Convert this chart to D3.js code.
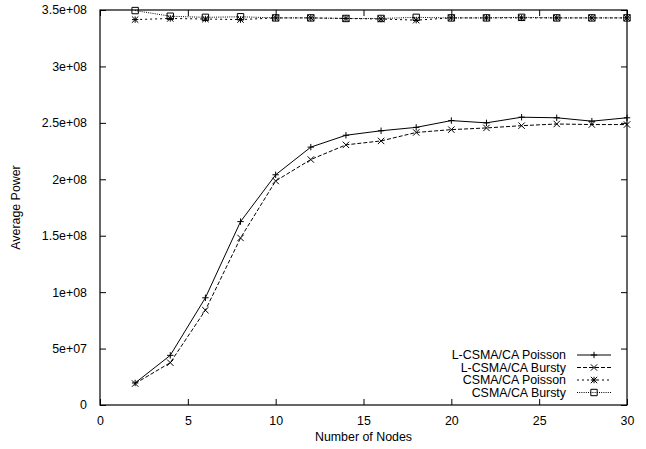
<!DOCTYPE html>
<html>
<head>
<meta charset="utf-8">
<script src="https://cdn.jsdelivr.net/npm/d3@7"></script>
<style>
  html, body { margin: 0; padding: 0; background: #fff; }
  svg { display: block; }
  text { font-family: "Liberation Sans", Arial, Helvetica, sans-serif; font-size: 12.4px; fill: #000; }
</style>
</head>
<body>
<svg id="chart" width="646" height="449"></svg>
<script>
const nodes = [2, 4, 6, 8, 10, 12, 14, 16, 18, 20, 22, 24, 26, 28, 30];
const lPoisson = [1.95e7, 4.4e7, 9.5e7, 1.625e8, 2.04e8, 2.285e8, 2.39e8, 2.43e8, 2.46e8, 2.52e8, 2.5e8, 2.55e8, 2.545e8, 2.515e8, 2.545e8];
const lBursty  = [1.9e7, 3.75e7, 8.4e7, 1.48e8, 1.985e8, 2.175e8, 2.305e8, 2.34e8, 2.415e8, 2.44e8, 2.455e8, 2.475e8, 2.49e8, 2.485e8, 2.485e8];
const cPoisson = [3.415e8, 3.425e8, 3.42e8, 3.415e8, 3.43e8, 3.43e8, 3.425e8, 3.42e8, 3.41e8, 3.43e8, 3.43e8, 3.43e8, 3.43e8, 3.43e8, 3.43e8];
const cBursty  = [3.495e8, 3.445e8, 3.435e8, 3.44e8, 3.43e8, 3.43e8, 3.425e8, 3.425e8, 3.435e8, 3.43e8, 3.43e8, 3.435e8, 3.43e8, 3.43e8, 3.43e8];
const seriesNames = ["L-CSMA/CA Poisson", "L-CSMA/CA Bursty", "CSMA/CA Poisson", "CSMA/CA Bursty"];
const xTicks = [0, 5, 10, 15, 20, 25, 30];
const yTicks = [0, 5e7, 1e8, 1.5e8, 2e8, 2.5e8, 3e8, 3.5e8];
const yTickLabels = ["0", "5e+07", "1e+08", "1.5e+08", "2e+08", "2.5e+08", "3e+08", "3.5e+08"];
const xTitle = "Number of Nodes";
const yTitle = "Average Power";

const series = [
  { name: seriesNames[0], values: lPoisson, dash: null, marker: "plus" },
  { name: seriesNames[1], values: lBursty, dash: "4,2", marker: "cross" },
  { name: seriesNames[2], values: cPoisson, dash: "2,3", marker: "star" },
  { name: seriesNames[3], values: cBursty, dash: "1,1.2", marker: "square" }
];

const svg = d3.select("#chart");
const L = 100, R = 627, T = 10, B = 405;
const x = d3.scaleLinear().domain([0, 30]).range([L, R]);
const y = d3.scaleLinear().domain([0, 3.5e8]).range([B, T]);

svg.append("rect").attr("x", L).attr("y", T).attr("width", R - L).attr("height", B - T)
  .attr("fill", "none").attr("stroke", "#000").attr("stroke-width", 1.2);

const tk = 6;
svg.append("g").attr("transform", `translate(0,${B})`)
  .call(d3.axisBottom(x).tickValues(xTicks).tickSize(-tk).tickPadding(tk + 5).tickFormat(d3.format("d")));
svg.append("g").attr("transform", `translate(0,${T})`)
  .call(d3.axisTop(x).tickValues(xTicks).tickSize(-tk).tickFormat(""));
svg.append("g").attr("transform", `translate(${L},0)`)
  .call(d3.axisLeft(y).tickValues(yTicks).tickSize(-tk).tickPadding(tk + 7).tickFormat((d, i) => yTickLabels[i]));
svg.append("g").attr("transform", `translate(${R},0)`)
  .call(d3.axisRight(y).tickValues(yTicks).tickSize(-tk).tickFormat(""));
svg.selectAll(".domain").remove();
svg.selectAll(".tick line").attr("stroke", "#000");
svg.selectAll(".tick text").attr("font-size", 12.4).attr("font-family", "Liberation Sans, Arial, sans-serif");

svg.append("text").attr("x", (L + R) / 2).attr("y", 441).attr("text-anchor", "middle").text(xTitle);
svg.append("text").attr("transform", `translate(20,${(T + B) / 2}) rotate(-90)`).attr("text-anchor", "middle").text(yTitle);

function drawMarker(g, type, cx, cy) {
  const s = 3.2;
  const p = g.append("path").attr("fill", "none").attr("stroke", "#000").attr("stroke-width", 1);
  let d = "";
  if (type === "plus" || type === "star") d += `M${cx - s},${cy}H${cx + s}M${cx},${cy - s}V${cy + s}`;
  if (type === "cross" || type === "star") d += `M${cx - s},${cy - s}L${cx + s},${cy + s}M${cx - s},${cy + s}L${cx + s},${cy - s}`;
  if (type === "square") d += `M${cx - s},${cy - s}H${cx + s}V${cy + s}H${cx - s}Z`;
  p.attr("d", d);
}

const line = d3.line().x(d => x(d[0])).y(d => y(d[1]));
series.forEach(s => {
  const pts = nodes.map((n, i) => [n, s.values[i]]);
  const g = svg.append("g");
  g.append("path").datum(pts).attr("d", line).attr("fill", "none").attr("stroke", "#000")
    .attr("stroke-width", 1).attr("stroke-dasharray", s.dash);
  pts.forEach(p => drawMarker(g, s.marker, x(p[0]), y(p[1])));
});

const legY0 = 355, legDy = 12.5, textRight = 566, sampleX0 = 577, sampleX1 = 611;
series.forEach((s, i) => {
  const yy = legY0 + i * legDy;
  svg.append("text").attr("x", textRight).attr("y", yy).attr("dy", "0.35em").attr("text-anchor", "end").text(s.name);
  svg.append("line").attr("x1", sampleX0).attr("x2", sampleX1).attr("y1", yy).attr("y2", yy)
    .attr("stroke", "#000").attr("stroke-width", 1).attr("stroke-dasharray", s.dash);
  drawMarker(svg, s.marker, (sampleX0 + sampleX1) / 2, yy);
});
</script>
</body>
</html>
